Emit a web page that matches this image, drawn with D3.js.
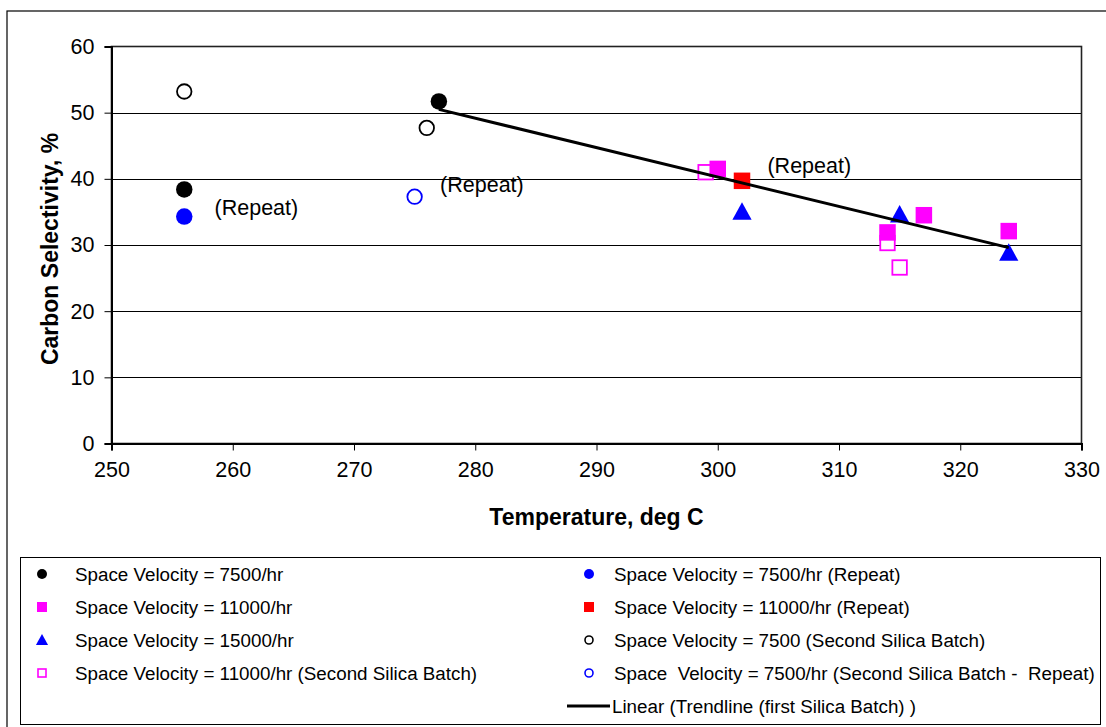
<!DOCTYPE html>
<html>
<head>
<meta charset="utf-8">
<script src="https://cdn.jsdelivr.net/npm/d3@7"></script>
<style>
  html, body { margin: 0; padding: 0; background: #fff; }
  svg { display: block; font-family: Arial, "Liberation Sans", sans-serif; }
</style>
</head>
<body>
<svg id="chart" width="1106" height="727"></svg>
<script>
// Temperature (deg C) and carbon selectivity (%) for each run group
const sv7500Temp = [256, 277];
const sv7500Sel = [38.4, 51.7];
const sv7500RepTemp = [256];
const sv7500RepSel = [34.3];
const sv11000Temp = [300, 314, 317, 324];
const sv11000Sel = [41.5, 31.9, 34.5, 32.1];
const sv11000RepTemp = [302];
const sv11000RepSel = [39.7];
const sv15000Temp = [302, 315, 324];
const sv15000Sel = [35.0, 34.6, 28.8];
const sv7500SecTemp = [256, 276];
const sv7500SecSel = [53.2, 47.7];
const sv11000SecTemp = [299, 314, 315];
const sv11000SecSel = [41.0, 30.3, 26.6];
const sv7500SecRepTemp = [275];
const sv7500SecRepSel = [37.3];

// Linear trendline for the first silica batch (end points)
const trendTemp = [277, 324];
const trendSel = [50.5, 29.6];

// "(Repeat)" notes, anchored in data units
const noteText = ["(Repeat)", "(Repeat)", "(Repeat)"];
const noteTemp = [258.5, 277.1, 304.1];
const noteSel = [35.6, 39.2, 42.0];

const xTicks = [250, 260, 270, 280, 290, 300, 310, 320, 330];
const yTicks = [0, 10, 20, 30, 40, 50, 60];

const legendLabels = [
  "Space Velocity = 7500/hr",
  "Space Velocity = 7500/hr (Repeat)",
  "Space Velocity = 11000/hr",
  "Space Velocity = 11000/hr (Repeat)",
  "Space Velocity = 15000/hr",
  "Space Velocity = 7500 (Second Silica Batch)",
  "Space Velocity = 11000/hr (Second Silica Batch)",
  "Space  Velocity = 7500/hr (Second Silica Batch -  Repeat)",
  "Linear (Trendline (first Silica Batch) )"
];

const zip = (xs, ys) => xs.map((x, i) => ({ t: x, s: ys[i] }));

const series = [
  { name: legendLabels[0], pts: zip(sv7500Temp, sv7500Sel), shape: "circle", fill: "#000", stroke: "none" },
  { name: legendLabels[1], pts: zip(sv7500RepTemp, sv7500RepSel), shape: "circle", fill: "#0000ff", stroke: "none" },
  { name: legendLabels[2], pts: zip(sv11000Temp, sv11000Sel), shape: "square", fill: "#ff00ff", stroke: "none" },
  { name: legendLabels[3], pts: zip(sv11000RepTemp, sv11000RepSel), shape: "square", fill: "#ff0000", stroke: "none" },
  { name: legendLabels[4], pts: zip(sv15000Temp, sv15000Sel), shape: "triangle", fill: "#0000ff", stroke: "none" },
  { name: legendLabels[5], pts: zip(sv7500SecTemp, sv7500SecSel), shape: "circle", fill: "#fff", stroke: "#000" },
  { name: legendLabels[6], pts: zip(sv11000SecTemp, sv11000SecSel), shape: "square", fill: "#fff", stroke: "#ff00ff" },
  { name: legendLabels[7], pts: zip(sv7500SecRepTemp, sv7500SecRepSel), shape: "circle", fill: "#fff", stroke: "#0000ff" }
];

// Draw order in the plot: open markers behind filled ones
const drawOrder = [5, 6, 7, 0, 1, 2, 3, 4];

const svg = d3.select("#chart");

const plot = { left: 111.5, right: 1081.5, top: 46.5, bottom: 443.5 };

const x = d3.scaleLinear().domain([250, 330]).range([plot.left, plot.right]);
const y = d3.scaleLinear().domain([0, 60]).range([plot.bottom, plot.top]);

// Outer chart frame
svg.append("rect")
  .attr("x", 7).attr("y", 11).attr("width", 1110).attr("height", 730)
  .attr("fill", "#fff").attr("stroke", "#000").attr("stroke-width", 1.2);

// Horizontal gridlines
svg.append("g")
  .selectAll("line")
  .data(yTicks.filter(v => v > 0 && v < 60))
  .join("line")
  .attr("x1", plot.left).attr("x2", plot.right)
  .attr("y1", d => Math.round(y(d)) + 0.5).attr("y2", d => Math.round(y(d)) + 0.5)
  .attr("stroke", "#000").attr("stroke-width", 1);

// Plot area border
svg.append("rect")
  .attr("x", plot.left).attr("y", plot.top)
  .attr("width", plot.right - plot.left).attr("height", plot.bottom - plot.top)
  .attr("fill", "none").attr("stroke", "#222").attr("stroke-width", 1.6);

// Axes
const xAxis = svg.append("g")
  .attr("transform", `translate(0,${plot.bottom})`)
  .call(d3.axisBottom(x).tickValues(xTicks).tickSize(7).tickPadding(11).tickFormat(d3.format("d")));
const yAxis = svg.append("g")
  .attr("transform", `translate(${plot.left},0)`)
  .call(d3.axisLeft(y).tickValues(yTicks).tickSize(7).tickPadding(10).tickFormat(d3.format("d")));

[xAxis, yAxis].forEach(g => {
  g.select(".domain").attr("stroke", "#000").attr("stroke-width", 2);
  g.selectAll(".tick line").attr("stroke", "#000").attr("stroke-width", 1);
  g.selectAll(".tick text")
    .attr("fill", "#000")
    .style("font-family", "Arial, 'Liberation Sans', sans-serif")
    .style("font-size", "21.5px");
});

// Axis titles
svg.append("text")
  .attr("x", (plot.left + plot.right) / 2).attr("y", 525)
  .attr("text-anchor", "middle")
  .style("font-size", "23px").style("font-weight", "bold")
  .text("Temperature, deg C");

svg.append("text")
  .attr("transform", `translate(58,${(plot.top + plot.bottom) / 2 + 4}) rotate(-90)`)
  .attr("text-anchor", "middle")
  .style("font-size", "23px").style("font-weight", "bold")
  .text("Carbon Selectivity, %");

// Marker drawing helper
function marker(sel, shape, size, fill, stroke, sw) {
  if (shape === "circle") {
    sel.append("circle").attr("r", size / 2)
      .attr("fill", fill).attr("stroke", stroke).attr("stroke-width", sw);
  } else if (shape === "square") {
    sel.append("rect")
      .attr("x", -size / 2).attr("y", -size / 2)
      .attr("width", size).attr("height", size)
      .attr("fill", fill).attr("stroke", stroke).attr("stroke-width", sw);
  } else {
    const h = size;
    sel.append("path")
      .attr("d", `M0,${-h * 0.55}L${h * 0.55},${h * 0.45}L${-h * 0.55},${h * 0.45}Z`)
      .attr("fill", fill).attr("stroke", stroke).attr("stroke-width", sw);
  }
}

const plotSize = { circle: 16.5, square: 16.5, triangle: 17.5 };

const pointsG = svg.append("g");
drawOrder.forEach(i => {
  const s = series[i];
  const open = s.stroke !== "none";
  const sz = open ? plotSize[s.shape] - 2 : plotSize[s.shape];
  pointsG.append("g")
    .selectAll("g")
    .data(s.pts)
    .join("g")
    .attr("transform", d => `translate(${x(d.t)},${y(d.s)})`)
    .each(function () { marker(d3.select(this), s.shape, sz, s.fill, s.stroke, open ? 1.8 : 0); });
});

// Trendline
const trendPts = zip(trendTemp, trendSel);
svg.append("path")
  .datum(trendPts)
  .attr("d", d3.line().x(d => x(d.t)).y(d => y(d.s)))
  .attr("fill", "none").attr("stroke", "#000").attr("stroke-width", 3);

// Notes
svg.append("g")
  .selectAll("text")
  .data(noteText.map((t, i) => ({ t: noteTemp[i], s: noteSel[i], label: t })))
  .join("text")
  .attr("x", d => x(d.t)).attr("y", d => y(d.s))
  .attr("dy", "0.35em")
  .style("font-size", "21.5px")
  .text(d => d.label);

// Legend
const legend = { x: 20.5, y: 557.5, w: 1080, h: 167 };
svg.append("rect")
  .attr("x", legend.x).attr("y", legend.y)
  .attr("width", legend.w).attr("height", legend.h)
  .attr("fill", "#fff").attr("stroke", "#000").attr("stroke-width", 1);

const rowY = i => 574 + i * 33;
const legendItems = series.map((s, i) => ({
  s,
  col: i % 2,
  row: Math.floor(i / 2)
}));

const legSize = { circle: 10, square: 10, triangle: 11 };
const lg = svg.append("g");
legendItems.forEach(({ s, col, row }) => {
  const mx = col === 0 ? 42 : 589;
  const tx = col === 0 ? 75 : 614;
  const open = s.stroke !== "none";
  const g = lg.append("g").attr("transform", `translate(${mx},${rowY(row)})`);
  marker(g, s.shape, open ? 8 : legSize[s.shape], s.fill, s.stroke, open ? 1.6 : 0);
  lg.append("text")
    .attr("x", tx).attr("y", rowY(row)).attr("dy", "0.35em")
    .attr("xml:space", "preserve")
    .style("white-space", "pre")
    .style("font-size", "18.8px")
    .text(s.name);
});

// Trendline legend entry
lg.append("line")
  .attr("x1", 567).attr("x2", 610)
  .attr("y1", rowY(4)).attr("y2", rowY(4))
  .attr("stroke", "#000").attr("stroke-width", 3);
lg.append("text")
  .attr("x", 612).attr("y", rowY(4)).attr("dy", "0.35em")
  .style("white-space", "pre")
  .style("font-size", "18.8px")
  .text(legendLabels[8]);
</script>
</body>
</html>
